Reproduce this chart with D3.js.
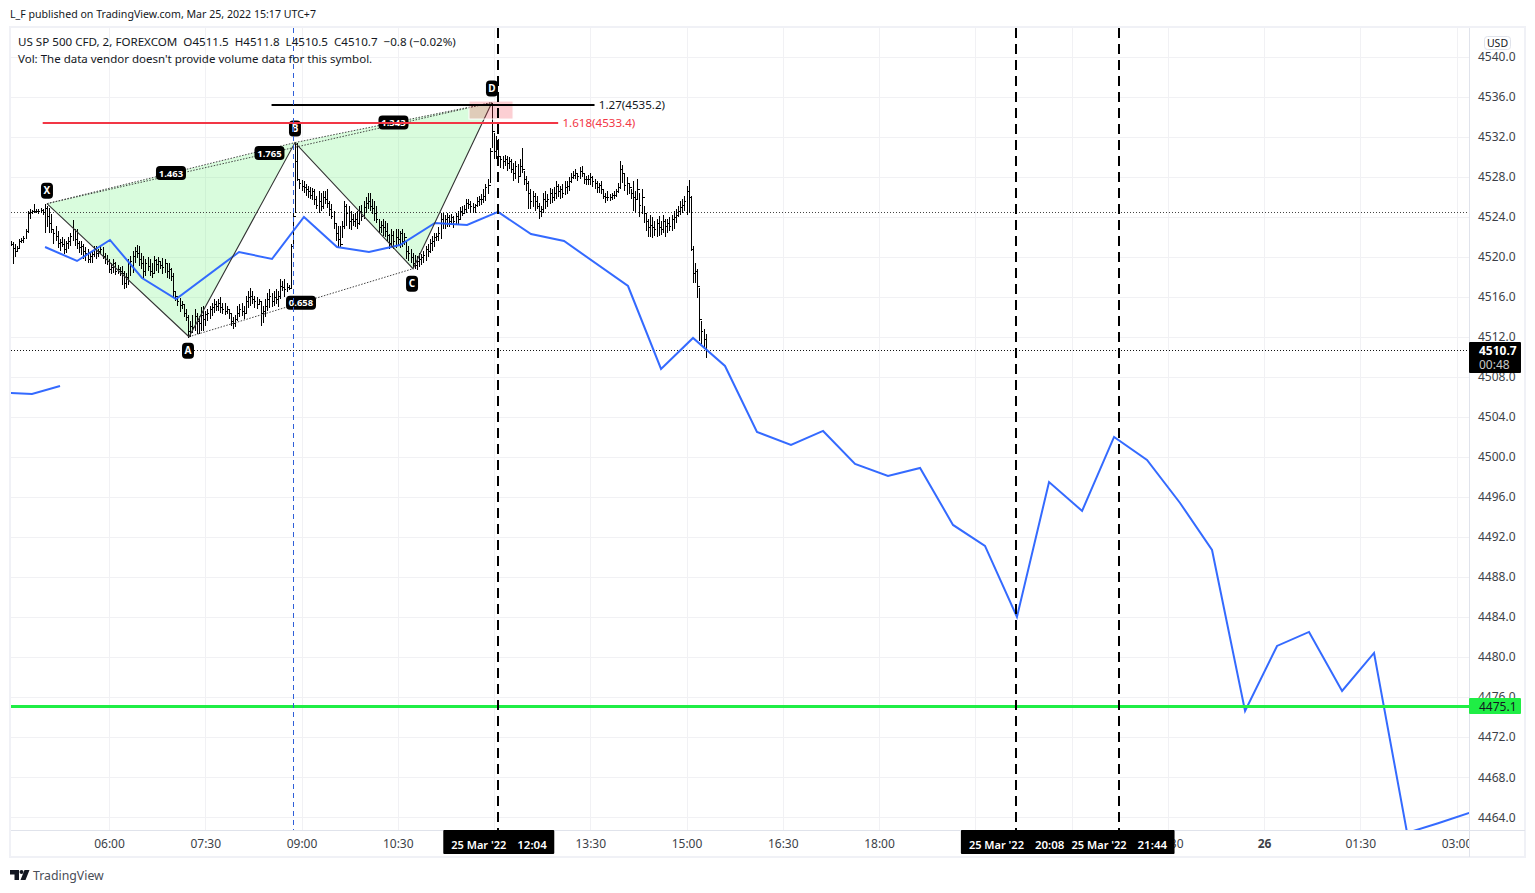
<!DOCTYPE html>
<html>
<head>
<meta charset="utf-8">
<title>US SP 500 CFD</title>
<script src="https://cdn.jsdelivr.net/npm/d3@7"></script>
<style>
  body { margin: 0; background: #fff; }
  svg { display: block; }
  text { font-family: "Noto Sans", sans-serif; font-size: 12px; fill: #131722; }
  .axis text { fill: #3c3f48; }
  .axis path, .axis line { display: none; }
  .tag text { fill: #fff; font-weight: 700; }
</style>
</head>
<body>
<div id="chart"></div>
<script>
// values are minutes after midnight of 25 Mar, prices in USD
const priceBase = 4500; // bar arrays hold points above this

const barStart = 268; // first bar, minutes
const barStep = 2;
const barHigh = [
  21.6,21.5,21.3,21.1,21.8,21.9,22.1,22.8,24.6,24.8,
  24.7,25.3,24.8,24.8,24.9,24.8,25.3,25.1,24.9,24.3,
  22.8,23.1,22.6,21.8,22,21.8,21.6,22,22.4,23.7,
  22.8,22.8,21.6,21.6,21.3,21,20.8,20.4,20.6,21.1,
  21.1,20.8,21.1,21,20.4,20.2,19.8,19.4,19.8,19.5,
  19.2,19,19.1,18.6,18.4,19.8,20.1,20.6,21,21.2,
  21.1,20.4,20.1,19.8,20,19.8,19.4,20.1,19.8,20,
  19.6,19.9,19.8,19.4,19.4,18.9,18.4,16.6,16.1,15.9,
  15.6,15.3,14.8,14.2,13.6,14.2,14.8,14.4,14.1,15,
  15.1,14.6,14.8,15.1,15.4,15.8,15.6,15.8,16,15.4,
  15.4,15.1,14.8,14.4,14,14.2,15.1,15.3,15.4,15.1,
  16.1,16.6,16.9,16.6,16.1,16,15.8,15.6,15.1,15.8,
  16.4,16.8,16.4,16.6,16.8,16.6,17.8,17.6,17.8,17.4,
  17.2,21.3,24.4,31.4,31.4,27.8,27.7,27.6,27.3,27.1,
  27,26.9,26.8,26.1,26.6,26.4,26.6,26.6,26.8,25.6,
  25.3,24.6,23.4,23.1,23.1,23.6,25.6,25.3,25.1,24.6,
  24.3,24.4,24.6,25.1,25.2,25.6,26,26.4,26.4,25.8,
  25.6,25.1,23.8,23.6,23.8,23.6,23.4,22.3,22.8,22.6,
  22.8,22.8,22.6,22.8,22.4,21.6,21.1,20.8,20.4,20.2,
  20.1,20.4,20.3,20.6,21.1,21.3,21.8,22.1,22.4,22.4,
  23,24.4,24.4,24.2,24.4,24.2,24.3,24.1,24.4,24.6,
  25,25.1,25.2,25.8,25.8,25.6,25.4,25.3,26,26.1,
  26.3,26.8,27.3,27.8,30.9,35.4,32.4,32.1,31.8,30.1,
  30.1,30.2,30.1,30,29.8,29.4,29.6,29.3,29.8,30.9,
  28.6,28.1,27.6,26.8,26.6,26.4,26.1,25.4,25.1,26.4,
  26.6,26.3,26.9,26.8,27,27.6,27.3,27.1,27.3,27.6,
  27.6,28,28.4,28.6,28.8,28.4,29,29.1,28.4,28.1,
  28.2,28.4,28.1,27.8,27.6,27.4,27.6,26.8,26.4,26.6,
  26.3,26.4,26.6,26.8,27.4,29.6,29.2,28.4,28,27.4,
  26.8,27.6,26.6,27.8,26.4,26.8,25.1,24.4,23.8,24.2,
  24,23.6,23.8,24.1,23.6,24.2,23.8,23.8,24,24.2,
  24.6,24.8,25.1,25.6,25.8,26.1,27.1,27.7,26.1,21.1,
  19.4,18.8,16.9,13.6,12.8,12.3
];
const barLow = [
  21.1,19.3,20,20.6,20.8,21.4,21.4,21.8,22.4,23.8,
  24.3,24.4,24.4,24.3,24.4,24.2,22.4,23,22.4,22.4,
  21.3,21.6,20.9,20.6,21,20.3,20.4,20.8,21.1,21.6,
  21.1,20.8,20.4,20.2,19.8,19.6,19.4,19.4,19.4,20,
  19.8,20,20.3,19.8,19.3,19.2,18.4,18.3,18.4,18.2,
  18.3,18.1,17.2,16.8,16.9,17.2,18.1,18.4,19.4,19.9,
  19.1,18.8,17.9,18.1,18.6,18.1,17.9,18.4,18.6,18.4,
  18.8,18.3,18.4,17.9,17.8,17.6,15.9,15.6,15.1,14.5,
  14.8,14,13.6,11.9,12,12.4,12.6,12.3,12.3,12.6,
  12.6,13.1,13.6,13.8,14.1,14.4,14.6,14.6,14.4,14.3,
  14.2,14.3,13.8,13.1,12.8,13,13.6,14,14.1,13.8,
  14.4,14.9,15.1,15.3,14.9,14.8,15.2,13.1,13.4,14,
  14.6,14.9,15,15.1,15.3,15,15.8,16.6,16,16.5,
  16.7,16.9,21.3,24.4,27.6,26.8,26.6,26.4,26.1,25.9,
  25.8,25.7,25.2,24.8,24.4,24.6,24.8,25.3,24.9,24.1,
  23.8,22.8,21.6,20.9,21,21.9,22.8,23.1,22.8,22.7,
  23.1,23,22.8,23.2,23.6,23.8,24.4,24.8,24.6,24.3,
  23.6,23.4,22.4,22.4,22.1,22,21.6,20.8,21,20.8,
  20.9,21.2,20.9,21,21.2,19.8,19.6,19.4,18.9,18.8,
  18.7,19,19.2,19.4,19.6,20,20.4,20.6,21,21.6,
  21.6,21.8,22.8,22.8,23,23,23.2,22.9,23.2,23.2,
  23.8,24.1,24.4,24.4,24.8,24.4,24.4,24.4,25,25.1,
  25.2,25.4,25.6,26.3,27.4,30.9,29.8,29.8,29.6,28.9,
  28.8,29.1,28.6,28.8,28.4,27.6,27.8,27.4,28,28.4,
  27.2,26.6,24.8,24.8,25,24.6,24.8,23.8,24,24.4,
  24.8,25,25.3,25.4,25.6,25.8,26,25.8,25.9,26.2,
  26.3,26.6,27.4,27.8,27.8,27.6,27.8,28,27.3,27.2,
  27.2,27.2,27,26.8,26.4,26.4,26.3,25.8,25.4,25.6,
  25.6,25.7,25.8,26,26.4,26.8,27.4,26.6,26.2,26.3,
  25.8,24.6,24.4,25.8,24,24.3,23.4,22.6,22,22,
  21.9,22.1,22,22.1,22.2,22.4,22,22.4,22.6,22.6,
  22.8,23.4,24,24.2,24.4,24.6,24.2,24.4,20.6,17.4,
  17.4,15.9,11.6,11.3,11,9.9
];
const barClose = [
  21.3,20.9,20.6,20.9,21.6,21.7,21.9,22.6,24.4,24.5,
  24.6,24.6,24.6,24.6,24.7,24.5,24.9,24.1,23.4,22.8,
  22.4,22.1,21.4,21.5,21.3,20.8,21.4,21.6,22.1,22.8,
  21.8,21.4,21,21.1,20.6,20.4,19.8,20.1,20.3,20.8,
  20.4,20.6,20.8,20.1,19.8,19.6,18.8,19,19.4,18.6,
  18.8,18.6,18.4,17.4,18,19.4,19.6,20.1,20.6,20.4,
  19.8,19.4,18.6,19.4,19.1,18.6,18.4,19.7,19.3,19.6,
  19.2,19,19.4,18.6,18.8,18.1,16.6,16.1,15.6,15.2,
  15.3,14.4,14,12.6,13.1,13,14.1,13.6,13.4,14.2,
  13.8,14.3,14.4,14.8,15,15.3,15.1,15.4,15,14.8,
  14.6,14.8,14.4,13.6,13.4,13.8,14.4,14.8,14.6,14.4,
  15.6,16,16.1,15.8,15.6,15.3,15.6,14.4,14.6,15.1,
  15.8,16.1,15.6,16,15.8,16.1,17.1,17,16.8,17,
  16.9,21.1,24.1,29.6,27.8,27.4,27.1,27,26.8,26.6,
  26.2,26.6,25.8,25.2,25.6,25.1,26,25.8,25.4,24.8,
  24.1,23.4,22.4,21.8,21.3,23.1,25.1,24.4,23.6,23.8,
  23.6,23.8,23.4,24.6,24.1,25,25.4,25.6,25.1,24.9,
  24.4,23.8,23,23.2,23,22.6,22.2,21.4,22.2,21.6,
  22,21.8,22.4,21.6,22,20.6,20.4,20,19.4,19.2,
  19.6,19.8,20,20.2,20.8,20.6,21.4,21.6,22,22.1,
  22.4,23.8,23.4,23.8,24,23.6,24,23.6,24.1,23.8,
  24.6,24.4,24.8,25.4,25.3,25.1,25,25.2,25.6,25.8,
  25.8,26.1,27,27.2,30.6,32.6,30.6,31.1,30.1,29.8,
  29.6,29.8,29.4,29.6,28.8,28.4,29.1,28.1,29.1,28.8,
  27.8,27.4,26.4,25.6,26.1,25.6,25.1,24.6,24.8,25.8,
  25.6,25.8,26.4,26,26.4,27.1,26.6,26.8,26.4,27,
  27.1,27.6,28,28.2,28.4,28.1,28.6,28.4,27.8,27.8,
  27.8,28,27.6,27.4,27,27.2,26.8,26.1,26,26,
  26,26.2,26.2,26.6,27,28.8,28.4,27.2,27.4,27,
  26.4,26,25.8,26.8,25.2,26,24.4,23.6,23,23.2,
  23,22.8,23.4,23,22.8,23.6,23.1,23.4,23.1,23.8,
  24,24.2,24.6,25,25.2,25.6,26.6,26,20.8,18.4,
  18.6,17.1,13.8,12.6,11.8,10.7
];

// hand drawn blue path
const blueTimes = [300.2,330.1,360.9,390.9,422.7,481.6,512.4,542.3,573.2,603.1,632.1,664.8,694.8,723.8,754.6,785.5,845.3,876.2,906.1,936,965.9,997.7,1027.7,1057.6,1088.4,1118.4,1149.2,1179.1,1209,1239,1269.9,1299.8,1330.6,1361.5,1391.4,1422.3,1452.2,1482.1,1513,1542.9,1573.8,1602.8,1631.8];
const bluePrices = [4520.97,4519.57,4521.67,4517.87,4515.77,4520.47,4519.77,4523.97,4520.97,4520.47,4521.17,4523.37,4523.17,4524.47,4522.27,4521.57,4517.07,4508.78,4511.88,4509.08,4502.49,4501.19,4502.59,4499.29,4498.09,4498.89,4493.2,4491.1,4484,4497.49,4494.6,4501.99,4499.69,4495.39,4490.7,4474.62,4481.11,4482.51,4476.62,4480.41,4462.43,4463.4,4464.43];
const stubTimes = [267.4,288,314.2];
const stubPrices = [4506.38,4506.28,4507.08];

// XABCD pattern
const pivotNames = ['X', 'A', 'B', 'C', 'D'];
const pivotTimes = [302, 434.8, 533.9, 644.3, 718.1];
const pivotPrices = [4525.3, 4512.0, 4531.4, 4518.8, 4535.4];
const pivotLabelOffset = [-13, 14, -14, 15, -14];
const ratioFrom = ['X', 'X', 'B', 'A'];
const ratioTo = ['B', 'D', 'D', 'C'];
const ratioLabels = ['1.463', '1.765', '1.343', '0.658'];

const priceTicks = d3.range(4464, 4541, 4);
const timeTickValues = [360, 450, 540, 630, 720, 810, 900, 990, 1080, 1170, 1260, 1350, 1440, 1530, 1620];
// 12:00, 19:30 and 21:00 sit under the crosshair boxes
const timeTickLabels = ['06:00', '07:30', '09:00', '10:30', '', '13:30', '15:00', '16:30', '18:00', '', '', '22:30', '26', '01:30', '03:00'];
const crossTimes = [724, 1208, 1304];
const crossLabels = ["25 Mar '22", "25 Mar '22", "25 Mar '22"];
const crossClock = ['12:04', '20:08', '21:44'];

const width = 1535;
const height = 893;
const pane = { left: 11, right: 1469, top: 28, bottom: 830 };

const x = d3.scaleLinear().domain([360, 1620]).range([109, 1456.5]);
const y = d3.scaleLinear().domain([4464, 4540]).range([817.2, 56.5]);
const px = (t) => Math.round(x(t)) + 0.5;
const py = (p) => Math.round(y(p)) + 0.5;

const svg = d3.select('#chart').append('svg').attr('width', width).attr('height', height);

svg.append('clipPath').attr('id', 'pane-clip').append('rect')
  .attr('x', pane.left).attr('y', pane.top)
  .attr('width', pane.right - pane.left).attr('height', pane.bottom - pane.top);
svg.append('clipPath').attr('id', 'time-clip').append('rect')
  .attr('x', pane.left).attr('y', pane.bottom)
  .attr('width', pane.right - pane.left).attr('height', 28);

// frame
svg.append('rect').attr('x', 10).attr('y', 27).attr('width', 1515).attr('height', 830)
  .attr('fill', 'none').attr('stroke', '#f0f1f6').attr('stroke-width', 2);

const plot = svg.append('g').attr('clip-path', 'url(#pane-clip)');

// grid
plot.selectAll('.grid-h').data(priceTicks).enter().append('line')
  .attr('x1', pane.left).attr('x2', pane.right)
  .attr('y1', py).attr('y2', py)
  .attr('stroke', '#f1f1f4');
plot.selectAll('.grid-v').data(timeTickValues).enter().append('line')
  .attr('x1', px).attr('x2', px)
  .attr('y1', pane.top).attr('y2', pane.bottom)
  .attr('stroke', '#f1f1f4');

// pattern fill
const pivot = (name) => {
  const i = pivotNames.indexOf(name);
  return [x(pivotTimes[i]), y(pivotPrices[i])];
};
const line = d3.line();
[['X', 'A', 'B'], ['B', 'C', 'D']].forEach((tri) => {
  plot.append('path')
    .attr('d', line(tri.map(pivot)) + 'Z')
    .attr('fill', '#4cf060').attr('fill-opacity', 0.21);
});

// dotted levels
[4524.5, 4510.7].forEach((p) => {
  plot.append('line')
    .attr('x1', pane.left).attr('x2', pane.right)
    .attr('y1', py(p)).attr('y2', py(p))
    .attr('stroke', p === 4510.7 ? '#111' : '#444')
    .attr('stroke-dasharray', '1 2');
});

// bars
const bars = barClose.map((c, i) => ({
  t: barStart + i * barStep,
  open: priceBase + (i ? barClose[i - 1] : c),
  high: priceBase + barHigh[i],
  low: priceBase + barLow[i],
  close: priceBase + c,
}));
plot.append('path')
  .attr('fill', 'none').attr('stroke', '#000').attr('stroke-width', 1)
  .attr('shape-rendering', 'crispEdges')
  .attr('d', bars.map((d) => {
    const bx = px(d.t);
    return `M${bx},${y(d.high)}V${y(d.low)}M${bx - 1},${py(d.open)}H${bx}M${bx},${py(d.close)}H${bx + 1}`;
  }).join(''));

// blue path
const timePrice = d3.line().x((d) => x(d[0])).y((d) => y(d[1]));
[[blueTimes, bluePrices], [stubTimes, stubPrices]].forEach(([ts, ps]) => {
  plot.append('path')
    .attr('d', timePrice(d3.zip(ts, ps)))
    .attr('fill', 'none').attr('stroke', '#2962ff').attr('stroke-width', 2)
    .attr('stroke-opacity', 0.95);
});

// pattern legs
plot.append('path')
  .attr('d', line(pivotNames.map(pivot)))
  .attr('fill', 'none').attr('stroke', '#333').attr('stroke-width', 1.1);
ratioFrom.forEach((from, i) => {
  plot.append('line')
    .attr('x1', pivot(from)[0]).attr('y1', pivot(from)[1])
    .attr('x2', pivot(ratioTo[i])[0]).attr('y2', pivot(ratioTo[i])[1])
    .attr('stroke', '#444').attr('stroke-width', 1).attr('stroke-dasharray', '1.5 1.5');
});

// PRZ box
plot.append('rect')
  .attr('x', x(696.6)).attr('y', y(4535.55))
  .attr('width', x(737.8) - x(696.6)).attr('height', y(4533.75) - y(4535.55))
  .attr('fill', '#f23645').attr('fill-opacity', 0.24)
  .attr('stroke', '#fff').attr('stroke-width', 1);

// fib levels
plot.append('line')
  .attr('x1', x(512)).attr('x2', x(814))
  .attr('y1', Math.round(y(4535.2))).attr('y2', Math.round(y(4535.2)))
  .attr('stroke', '#000').attr('stroke-width', 2);
svg.append('text').attr('x', x(818)).attr('y', y(4535.2) + 4).style('font-size', '11.6px').text('1.27(4535.2)');

// ratio labels
const tagGroup = plot.append('g').attr('class', 'tag');
function addTag(cx, cy, label, w, h, size) {
  tagGroup.append('rect')
    .attr('x', cx - w / 2).attr('y', cy - h / 2)
    .attr('width', w).attr('height', h).attr('rx', 4)
    .attr('fill', '#000');
  tagGroup.append('text')
    .attr('x', cx).attr('y', cy + size * 0.36)
    .attr('text-anchor', 'middle')
    .style('font-size', size + 'px')
    .text(label);
}
ratioLabels.forEach((label, i) => {
  const a = pivot(ratioFrom[i]);
  const b = pivot(ratioTo[i]);
  addTag((a[0] + b[0]) / 2, (a[1] + b[1]) / 2, label, 30, 14, 9.5);
});
pivotNames.forEach((name, i) => {
  const p = pivot(name);
  addTag(p[0] - (name === 'A' || name === 'C' ? 1 : 0), p[1] + pivotLabelOffset[i], name, 12, 16, 10);
});

// red fib over the tag
plot.append('line')
  .attr('x1', x(298)).attr('x2', x(780))
  .attr('y1', Math.round(y(4533.4))).attr('y2', Math.round(y(4533.4)))
  .attr('stroke', '#f23645').attr('stroke-width', 2);
svg.append('text').attr('x', x(784)).attr('y', y(4533.4) + 4)
  .style('fill', '#f23645').style('font-size', '11.6px').text('1.618(4533.4)');

// green level
plot.append('line')
  .attr('x1', pane.left).attr('x2', pane.right)
  .attr('y1', py(4475.1)).attr('y2', py(4475.1))
  .attr('stroke', '#1fee45').attr('stroke-width', 3);

// vertical markers
plot.append('line')
  .attr('x1', px(532)).attr('x2', px(532))
  .attr('y1', pane.top).attr('y2', pane.bottom)
  .attr('stroke', '#2f5fd8').attr('stroke-dasharray', '5 4');
plot.selectAll('.cross').data(crossTimes).enter().append('line')
  .attr('x1', (t) => Math.round(x(t))).attr('x2', (t) => Math.round(x(t)))
  .attr('y1', pane.top).attr('y2', pane.bottom)
  .attr('stroke', '#000').attr('stroke-width', 2)
  .attr('stroke-dasharray', '10 6');

// axes
svg.append('line').attr('x1', pane.left).attr('x2', 1525)
  .attr('y1', pane.bottom + 0.5).attr('y2', pane.bottom + 0.5).attr('stroke', '#e0e3eb');
svg.append('line').attr('x1', pane.right + 0.5).attr('x2', pane.right + 0.5)
  .attr('y1', pane.top).attr('y2', 857).attr('stroke', '#e0e3eb');

svg.append('g').attr('class', 'axis')
  .attr('transform', `translate(${pane.right},0)`)
  .call(d3.axisRight(y).tickValues(priceTicks).tickSize(0).tickPadding(9)
    .tickFormat((d) => d.toFixed(1)));

svg.append('g').attr('clip-path', 'url(#time-clip)')
  .append('g').attr('class', 'axis')
  .attr('transform', `translate(0,${pane.bottom + 5})`)
  .call(d3.axisBottom(x).tickValues(timeTickValues).tickSize(0).tickPadding(4)
    .tickFormat((d, i) => timeTickLabels[i]))
  .selectAll('text').filter((d) => d === 1440).style('font-weight', 700);

// USD button
svg.append('rect').attr('x', 1484.5).attr('y', 36.5).attr('width', 26).attr('height', 13).attr('rx', 3)
  .attr('fill', '#fff').attr('stroke', '#e0e3eb');
svg.append('text').attr('x', 1497.5).attr('y', 47).attr('text-anchor', 'middle').style('font-size', '10.5px').text('USD');

// axis badges
const badges = svg.append('g');
badges.append('rect').attr('x', 1469).attr('y', 342).attr('width', 52).attr('height', 31).attr('rx', 1).attr('fill', '#000');
badges.append('text').attr('x', 1479).attr('y', 355).style('fill', '#fff').style('font-weight', 700).text('4510.7');
badges.append('text').attr('x', 1479).attr('y', 369).style('fill', '#c8c8c8').text('00:48');
badges.append('rect').attr('x', 1469).attr('y', 698).attr('width', 52).attr('height', 16).attr('rx', 1).attr('fill', '#1fee45');
badges.append('text').attr('x', 1479).attr('y', 711).text('4475.1');

// crosshair time labels
const crossBox = svg.append('g');
crossTimes.forEach((t) => {
  crossBox.append('rect').attr('x', x(t) - 55).attr('y', pane.bottom).attr('width', 111).attr('height', 24).attr('rx', 1).attr('fill', '#000');
});
crossTimes.forEach((t, i) => {
  crossBox.append('text').attr('x', x(t) - 47).attr('y', 849)
    .style('fill', '#fff').style('font-weight', 600).style('font-size', '11px').text(crossLabels[i]);
  crossBox.append('text').attr('x', x(t) + 19).attr('y', 849)
    .style('fill', '#fff').style('font-weight', 600).style('font-size', '11.5px').text(crossClock[i]);
});

// header and legend
svg.append('text').attr('x', 10).attr('y', 18).style('font-size', '10.6px')
  .text('L_F published on TradingView.com, Mar 25, 2022 15:17 UTC+7');
svg.append('text').attr('x', 18).attr('y', 46).style('font-size', '11.6px')
  .style('white-space', 'pre')
  .text('US SP 500 CFD, 2, FOREXCOM  O4511.5  H4511.8  L4510.5  C4510.7  \u22120.8 (\u22120.02%)');
svg.append('text').attr('x', 18).attr('y', 63).style('font-size', '11.5px')
  .text("Vol: The data vendor doesn't provide volume data for this symbol.");

// footer
svg.append('path').attr('fill', '#131722')
  .attr('d', 'M10,870h9v10h-4.5v-5.5h-4.5zM29.5,870l-4,10h-5l4,-10z');
svg.append('circle').attr('cx', 21.5).attr('cy', 872).attr('r', 2).attr('fill', '#131722');
svg.append('text').attr('x', 33).attr('y', 880).style('font-size', '12.3px').style('fill', '#4a4e58').text('TradingView');
</script>
</body>
</html>
